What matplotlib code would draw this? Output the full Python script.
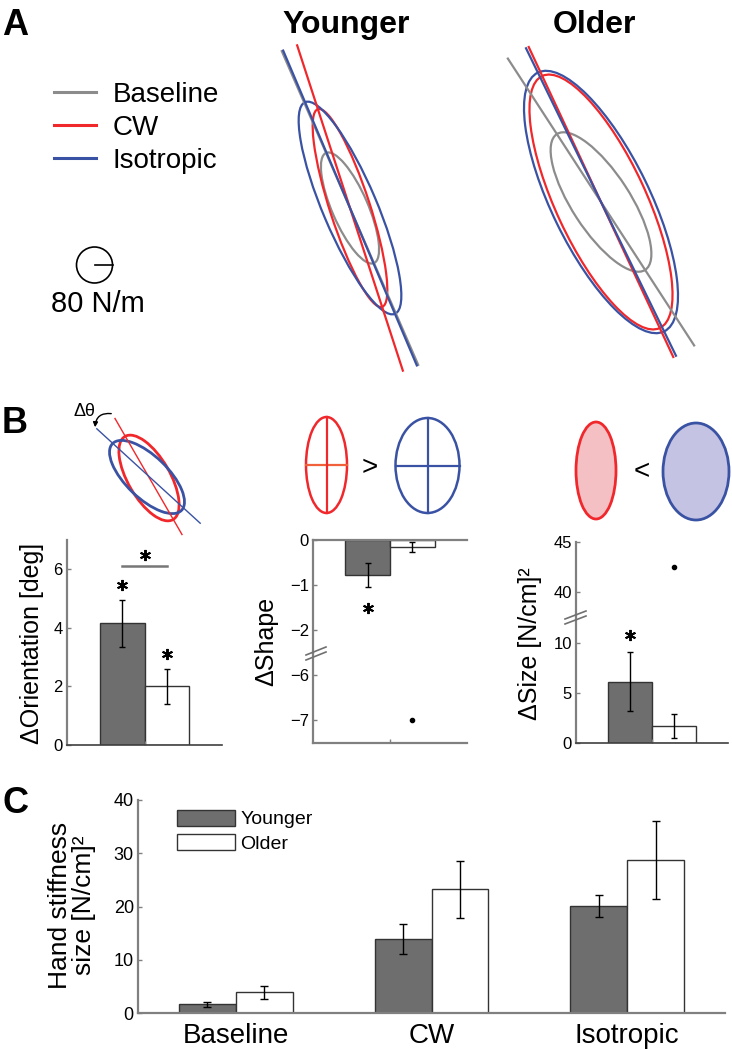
import matplotlib
matplotlib.use('Agg')
import matplotlib.pyplot as plt
import numpy as np
from matplotlib.patches import Ellipse, Circle, FancyArrowPatch
from matplotlib.lines import Line2D

plt.rcParams['font.family'] = ['Liberation Sans', 'DejaVu Sans']

# ---- data ----
conditions = ['Baseline', 'CW', 'Isotropic']
cond_colors = ['#8c8c8c', '#f0282c', '#3a52a3']
groups = ['Younger', 'Older']

# representative stiffness ellipses (N/m): semi-major, semi-minor, tilt from vertical (deg)
young_major = [267, 462, 511]
young_minor = [80, 89, 120]
young_tilt = [23.5, 18, 23]
old_major = [360, 618, 640]
old_minor = [129, 200, 218]
old_tilt = [33, 25, 26]
axis_half_len = 760
scale_radius = 80

# panel B: change CW - isotropic
d_orient = [4.15, 2.0]
d_orient_err = [0.8, 0.6]
d_shape = [-0.77, -0.15]
d_shape_err = [0.27, 0.11]
d_size = [6.15, 1.75]
d_size_err = [2.95, 1.2]
shape_outlier = -7.0
size_outlier = 42.5

# panel C: stiffness size per condition
size_young = [1.6, 13.9, 20.1]
size_young_err = [0.45, 2.8, 2.05]
size_old = [3.9, 23.2, 28.7]
size_old_err = [1.25, 5.35, 7.3]

W, H = 732, 1050
fig = plt.figure(figsize=(W / 100, H / 100), dpi=100)


def px_axes(x0, y0, x1, y1):
    return fig.add_axes([x0 / W, 1 - y1 / H, (x1 - x0) / W, (y1 - y0) / H])


dark = '#6e6e6e'
edge = '#333333'
spine_col = '#808080'


def style(ax, left=True, bottom=True, top=False, dark_bottom=False):
    ax.spines['right'].set_visible(False)
    ax.spines['top'].set_visible(top)
    ax.spines['left'].set_visible(left)
    ax.spines['bottom'].set_visible(bottom)
    for s in ['left', 'bottom', 'top']:
        ax.spines[s].set_color(spine_col)
        ax.spines[s].set_linewidth(1.6)
    if dark_bottom:
        ax.spines['bottom'].set_color('#404040')
        ax.spines['bottom'].set_linewidth(1.2)
    ax.tick_params(direction='in', length=3, width=1, color=spine_col, labelsize=12, pad=3)
    ax.patch.set_alpha(0)


def star(ax, x, y):
    ax.plot(x, y, marker=(6, 2, 0), ms=8, mew=1.4, color='black', clip_on=False)


# ---- panel A ----
k = 80 / 18.0  # N/m per pixel
cy = 208
axA = px_axes(0, 0, W, 380)
axA.set_xlim(-350 * k, (W - 350) * k)
axA.set_ylim(-(380 - cy) * k, cy * k)
axA.axis('off')
centers = [(0, 0), (251 * k, 6 * k)]
sets = [(young_major, young_minor, young_tilt), (old_major, old_minor, old_tilt)]
for (cx, cyy), (majors, minors, tilts) in zip(centers, sets):
    for a, b, t, col in zip(majors, minors, tilts, cond_colors):
        th = np.deg2rad(t)
        dx, dy = -np.sin(th), np.cos(th)
        axA.plot([cx - axis_half_len * dx, cx + axis_half_len * dx],
                 [cyy - axis_half_len * dy, cyy + axis_half_len * dy],
                 color=col, lw=1.6, clip_on=False)
        axA.add_patch(Ellipse((cx, cyy), 2 * a, 2 * b, angle=90 + t, fill=False, ec=col, lw=1.6))

fig.text(346 / W, 1 - 33 / H, 'Younger', ha='center', va='baseline', fontsize=23, fontweight='bold')
fig.text(594 / W, 1 - 33 / H, 'Older', ha='center', va='baseline', fontsize=23, fontweight='bold')

handles = [Line2D([], [], color=c, lw=2.2) for c in cond_colors]
fig.legend(handles, conditions, loc='upper left', bbox_to_anchor=(54 / W, 1 - 82 / H),
           frameon=False, fontsize=20, handlelength=1.5, handletextpad=0.6,
           labelspacing=0.25, borderpad=0, borderaxespad=0)

sx, sy = (94.5 - 350) * k, (cy - 265) * k
axA.add_patch(Circle((sx, sy), scale_radius, fill=False, ec='black', lw=1.2))
axA.plot([sx, sx + scale_radius], [sy, sy], color='black', lw=1.2)
fig.text(98 / W, 1 - 312 / H, '80 N/m', ha='center', va='baseline', fontsize=21)

fig.text(2 / W, 1 - 35 / H, 'A', ha='left', va='baseline', fontsize=26, fontweight='bold')
fig.text(2 / W, 1 - 433 / H, 'B', ha='left', va='baseline', fontsize=26, fontweight='bold')
fig.text(2 / W, 1 - 813 / H, 'C', ha='left', va='baseline', fontsize=26, fontweight='bold')

# ---- panel B ----
bw = 0.29
xg = np.array([1 - bw / 2, 1 + bw / 2])
bar_cols = [dark, 'white']

# orientation
axO = px_axes(67, 540, 222, 745)
axO.bar(xg, d_orient, bw, color=bar_cols, edgecolor=edge, lw=1)
axO.errorbar(xg, d_orient, yerr=d_orient_err, fmt='none', ecolor='black', elinewidth=1, capsize=2.5)
axO.set_xlim(0.5, 1.5)
axO.set_ylim(0, 7)
axO.set_yticks([0, 2, 4, 6])
axO.set_xticks([1])
axO.set_xticklabels([])
style(axO, dark_bottom=True)
for x, v, e in zip(xg, d_orient, d_orient_err):
    star(axO, x, v + e + 0.5)
axO.plot(xg, [6.1, 6.1], color='#777777', lw=1.8)
star(axO, 1, 6.5)
fig.text(32 / W, 1 - 643 / H, '\u0394Orientation [deg]', rotation=90, ha='center', va='center', fontsize=18)

# shape (broken axis)
axSu = px_axes(313, 540, 467, 652.5)
axSl = px_axes(313, 652.5, 467, 742.5)
axSu.bar(xg, d_shape, bw, color=bar_cols, edgecolor=edge, lw=1)
axSu.errorbar(xg, d_shape, yerr=d_shape_err, fmt='none', ecolor='black', elinewidth=1, capsize=2.5)
star(axSu, xg[0], d_shape[0] - d_shape_err[0] - 0.46)
axSu.set_xlim(0.5, 1.5)
axSu.set_ylim(-2.5, 0)
axSu.set_yticks([0, -1, -2])
axSu.set_xticks([])
style(axSu, bottom=False, top=True)
axSl.plot(xg[1], shape_outlier, 'o', color='black', ms=3)
axSl.set_xlim(0.5, 1.5)
axSl.set_ylim(-7.5, -5.5)
axSl.set_yticks([-6, -7])
axSl.set_xticks([1])
axSl.set_xticklabels([])
style(axSl)
fig.text(266 / W, 1 - 641 / H, '\u0394Shape', rotation=90, ha='center', va='center', fontsize=18)

# size (broken axis)
axZu = px_axes(576, 542, 728, 615)
axZl = px_axes(576, 615, 728, 743)
axZl.bar(xg, d_size, bw, color=bar_cols, edgecolor=edge, lw=1)
axZl.errorbar(xg, d_size, yerr=d_size_err, fmt='none', ecolor='black', elinewidth=1, capsize=2.5)
star(axZl, xg[0], d_size[0] + d_size_err[0] + 1.7)
axZl.set_xlim(0.5, 1.5)
axZl.set_ylim(0, 12.8)
axZl.set_yticks([0, 5, 10])
axZl.set_xticks([1])
axZl.set_xticklabels([])
style(axZl, dark_bottom=True)
axZu.plot(xg[1], size_outlier, 'o', color='black', ms=3)
axZu.set_xlim(0.5, 1.5)
axZu.set_ylim(37.7, 45)
axZu.set_yticks([40, 45])
axZu.set_xticks([])
style(axZu, bottom=False)
fig.text(530 / W, 1 - 644 / H, '\u0394Size [N/cm]\u00b2', rotation=90, ha='center', va='center', fontsize=18)

# ---- panel C ----
axC = px_axes(138, 800, 725, 1013)
xc = np.arange(1, len(conditions) + 1)
axC.bar(xc - bw / 2, size_young, bw, color=dark, edgecolor=edge, lw=1, label=groups[0])
axC.bar(xc + bw / 2, size_old, bw, color='white', edgecolor=edge, lw=1, label=groups[1])
axC.errorbar(xc - bw / 2, size_young, yerr=size_young_err, fmt='none', ecolor='black', elinewidth=1, capsize=3)
axC.errorbar(xc + bw / 2, size_old, yerr=size_old_err, fmt='none', ecolor='black', elinewidth=1, capsize=3)
axC.set_xlim(0.5, 3.5)
axC.set_ylim(0, 40)
axC.set_yticks([0, 10, 20, 30, 40])
axC.set_xticks(xc)
axC.set_xticklabels(conditions)
style(axC)
axC.tick_params(axis='y', labelsize=13)
axC.tick_params(axis='x', length=0, labelsize=20, pad=7)
axC.legend(loc='upper left', bbox_to_anchor=((177 - 138) / 587, 0.955), frameon=False,
           fontsize=14, handlelength=3.0, handleheight=0.9, handletextpad=0.25,
           labelspacing=0.3, borderpad=0, borderaxespad=0)
fig.text(72 / W, 1 - 905 / H, 'Hand stiffness\nsize [N/cm]\u00b2', rotation=90, ha='center',
         va='center', fontsize=19, linespacing=1.05, multialignment='center')

# ---- schematic icons (pixel coordinates) ----
axI = px_axes(0, 0, W, H)
axI.set_xlim(0, W)
axI.set_ylim(H, 0)
axI.axis('off')
red, blue = cond_colors[1], cond_colors[2]


def tilted(x, y, a, b, tilt, **kw):
    axI.add_patch(Ellipse((x, y), 2 * a, 2 * b, angle=90 - tilt, **kw))


def tilted_line(x, y, half, tilt, **kw):
    t = np.deg2rad(tilt)
    axI.plot([x - half * np.sin(t), x + half * np.sin(t)],
             [y - half * np.cos(t), y + half * np.cos(t)], **kw)


tilted_line(148.5, 476.5, 67, 30, color=red, lw=1)
tilted_line(148.5, 476, 70, 47.6, color=blue, lw=1)
tilted(149, 478, 48, 21, 30, fill=False, ec=red, lw=2)
tilted(147, 477, 48, 21, 46, fill=False, ec=blue, lw=2)
axI.add_patch(FancyArrowPatch((114, 414), (95, 430), connectionstyle='arc3,rad=0.6',
                              arrowstyle='-|>', mutation_scale=7, lw=1, color='black'))
axI.text(95, 412, '\u0394\u03b8', ha='right', va='center', fontsize=13)

# shape icons
axI.add_patch(Ellipse((326.5, 465), 41, 96, fill=False, ec=red, lw=1.8))
axI.plot([306, 347], [465, 465], color='#f0603a', lw=1.6)
axI.plot([326.5, 326.5], [417, 513], color=red, lw=1.6)
axI.add_patch(Ellipse((427.5, 465.5), 64, 95, fill=False, ec=blue, lw=1.8))
axI.plot([395.5, 459.5], [465.5, 465.5], color=blue, lw=1.6)
axI.plot([427.5, 427.5], [418, 513], color=blue, lw=1.6)
axI.text(370, 468, '>', ha='center', va='center', fontsize=20)

# size icons
axI.add_patch(Ellipse((596, 470.5), 40, 97, fc='#f5c0c4', ec=red, lw=2))
axI.add_patch(Ellipse((696, 471.5), 66, 97, fc='#c4c3e3', ec=blue, lw=2))
axI.text(642, 472, '<', ha='center', va='center', fontsize=20)

# axis break marks
for x0, x1, y0 in [(306, 326, 655), (565, 586, 619)]:
    for off in (0, 5):
        axI.plot([x0, x1], [y0 + off, y0 + off - 8], color='#707070', lw=1.2)

fig.savefig('out.png', dpi=100)
